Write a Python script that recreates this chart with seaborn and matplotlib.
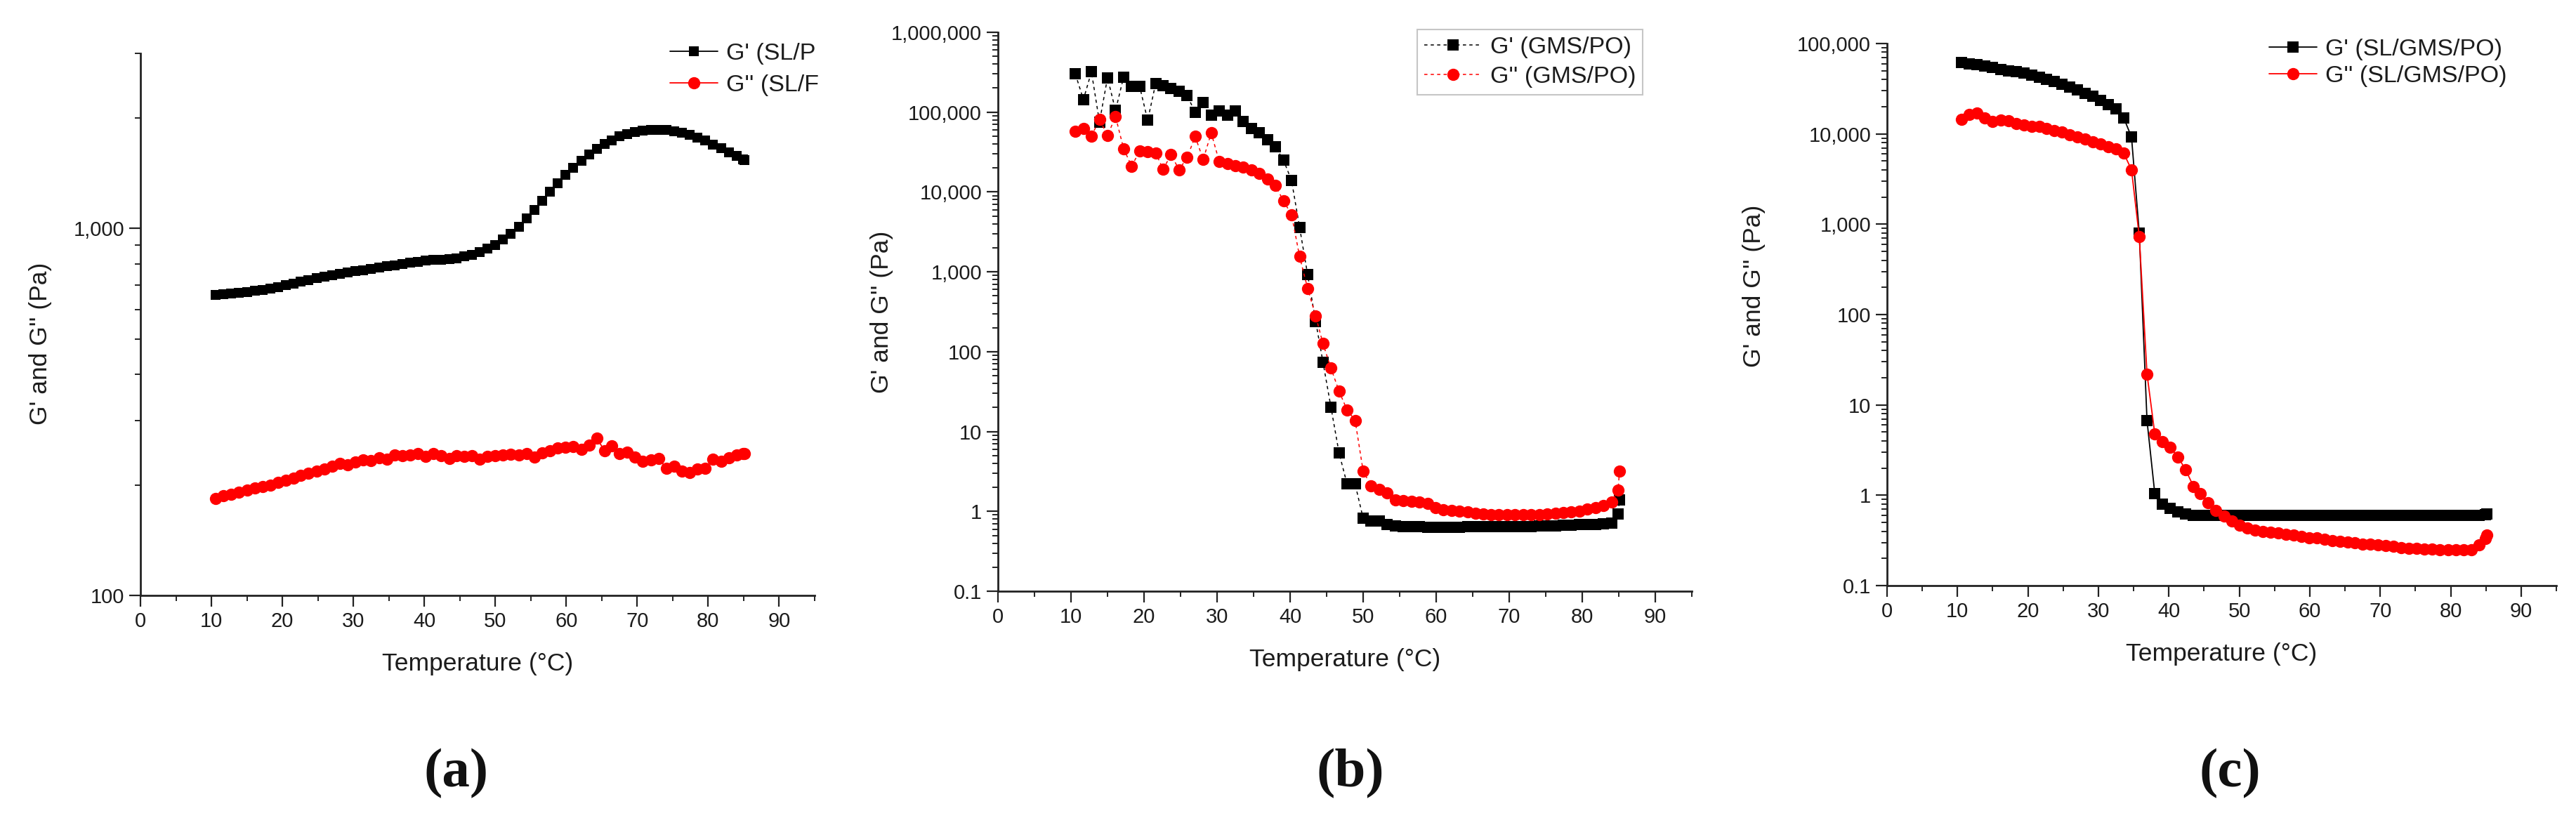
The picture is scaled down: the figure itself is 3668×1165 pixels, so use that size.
import matplotlib
matplotlib.use("Agg")
import matplotlib.pyplot as plt
import matplotlib.ticker as mticker
import seaborn as sns

# temperature grid shared by all three panels (degC)
temp = [10.6, 11.7, 12.8, 13.9, 15.0, 16.1, 17.2, 18.3, 19.4, 20.5,
        21.6, 22.6, 23.7, 24.8, 25.9, 27.0, 28.1, 29.2, 30.3, 31.4,
        32.5, 33.6, 34.7, 35.8, 36.9, 38.0, 39.1, 40.2, 41.3, 42.4,
        43.5, 44.5, 45.6, 46.7, 47.8, 48.9, 50.0, 51.1, 52.2, 53.3,
        54.4, 55.5, 56.6, 57.7, 58.8, 59.9, 61.0, 62.1, 63.2, 64.3,
        65.4, 66.4, 67.5, 68.6, 69.7, 70.8, 71.9, 73.0, 74.1, 75.2,
        76.3, 77.4, 78.5, 79.6, 80.7, 81.8, 82.9, 84.0, 84.9, 85.1]

# (a) SL/PO
a_gp = [660, 662, 665, 668, 672, 676, 681, 687, 693, 700,
        708, 716, 724, 731, 738, 745, 752, 758, 764, 770,
        776, 782, 788, 794, 800, 806, 812, 818, 821, 823,
        826, 830, 838, 848, 862, 880, 903, 932, 967, 1010,
        1065, 1125, 1190, 1260, 1330, 1400, 1465, 1530, 1590, 1645,
        1700, 1740, 1780, 1810, 1832, 1848, 1857, 1860, 1855, 1843,
        1825, 1800, 1770, 1735, 1695, 1655, 1615, 1575, 1545, 1535]
a_gpp = [184, 187, 189, 191, 194, 196, 198, 200, 203, 206,
         209, 212, 215, 218, 221, 225, 229, 227, 231, 234,
         233, 237, 235, 241, 240, 241, 243, 239, 244, 240,
         236, 240, 239, 240, 235, 239, 240, 241, 242, 241,
         243, 238, 245, 248, 252, 253, 255, 250, 257, 268,
         248, 256, 244, 246, 238, 232, 234, 236, 222, 225,
         218, 216, 221, 222, 235, 232, 237, 241, 243, 243]

# (b) GMS/PO
b_gp = [3.0e5, 1.44e5, 3.2e5, 7.5e4, 2.7e5, 1.05e5, 2.75e5, 2.1e5, 2.1e5, 7.9e4,
        2.3e5, 2.15e5, 1.98e5, 1.81e5, 1.61e5, 1.0e5, 1.32e5, 9.1e4, 1.04e5, 9.1e4,
        1.04e5, 7.7e4, 6.3e4, 5.5e4, 4.5e4, 3.66e4, 2.5e4, 1.39e4, 3.6e3, 920,
        240, 74, 20, 5.4, 2.2, 2.2, 0.82, 0.76, 0.75, 0.68,
        0.66, 0.65, 0.64, 0.64, 0.63, 0.63, 0.63, 0.63, 0.63, 0.64,
        0.64, 0.64, 0.64, 0.64, 0.64, 0.65, 0.65, 0.65, 0.66, 0.66,
        0.66, 0.67, 0.67, 0.68, 0.68, 0.69, 0.70, 0.72, 0.92, 1.4]
b_gpp = [5.7e4, 6.2e4, 5.0e4, 8.1e4, 5.1e4, 8.8e4, 3.5e4, 2.1e4, 3.26e4, 3.2e4,
         3.1e4, 1.92e4, 2.93e4, 1.9e4, 2.7e4, 4.96e4, 2.55e4, 5.5e4, 2.4e4, 2.25e4,
         2.15e4, 2.05e4, 1.9e4, 1.7e4, 1.45e4, 1.2e4, 7.7e3, 5.2e3, 1.55e3, 620,
         280, 126, 62, 32, 18.6, 13.8, 3.2, 2.08, 1.88, 1.7,
         1.39, 1.35, 1.33, 1.3, 1.25, 1.12, 1.05, 1.02, 1.0, 0.98,
         0.95, 0.93, 0.91, 0.90, 0.90, 0.90, 0.90, 0.91, 0.91, 0.92,
         0.94, 0.96, 0.99, 1.01, 1.06, 1.12, 1.18, 1.3, 1.85, 3.2]

# (c) SL/GMS/PO
c_gp = [6.2e4, 6.0e4, 5.8e4, 5.6e4, 5.4e4, 5.2e4, 5.0e4, 4.85e4, 4.7e4, 4.5e4,
        4.25e4, 4.0e4, 3.8e4, 3.55e4, 3.3e4, 3.05e4, 2.8e4, 2.6e4, 2.35e4, 2.1e4,
        1.9e4, 1.5e4, 9.2e3, 800, 6.7, 1.05, 0.8, 0.71, 0.66, 0.62,
        0.60, 0.60, 0.60, 0.60, 0.60, 0.60, 0.60, 0.60, 0.60, 0.60,
        0.60, 0.60, 0.60, 0.60, 0.60, 0.60, 0.60, 0.60, 0.60, 0.60,
        0.60, 0.60, 0.60, 0.60, 0.60, 0.60, 0.60, 0.60, 0.60, 0.60,
        0.60, 0.60, 0.60, 0.60, 0.60, 0.60, 0.60, 0.60, 0.61, 0.62]
c_gpp = [1.44e4, 1.64e4, 1.7e4, 1.5e4, 1.38e4, 1.43e4, 1.4e4, 1.3e4, 1.25e4, 1.22e4,
         1.2e4, 1.15e4, 1.09e4, 1.04e4, 9.7e3, 9.2e3, 8.8e3, 8.2e3, 7.7e3, 7.2e3,
         6.8e3, 6.1e3, 4.0e3, 730, 22, 4.8, 3.95, 3.4, 2.65, 1.9,
         1.25, 1.05, 0.82, 0.68, 0.59, 0.52, 0.47, 0.43, 0.41, 0.40,
         0.39, 0.38, 0.37, 0.36, 0.35, 0.34, 0.335, 0.325, 0.315, 0.31,
         0.305, 0.30, 0.29, 0.285, 0.28, 0.275, 0.27, 0.265, 0.26, 0.26,
         0.255, 0.255, 0.25, 0.25, 0.25, 0.25, 0.25, 0.28, 0.33, 0.36]

legend_a = ["G' (SL/P", "G'' (SL/F"]
legend_b = ["G' (GMS/PO)", "G'' (GMS/PO)"]
legend_c = ["G' (SL/GMS/PO)", "G'' (SL/GMS/PO)"]
panel_tags = ["(a)", "(b)", "(c)"]

sns.set_style("ticks")
plt.rcParams["font.family"] = ["Liberation Sans", "DejaVu Sans"]
TXT = "#1c1c1c"

W, H = 3668, 1165
fig = plt.figure(figsize=(W / 100, H / 100), dpi=100, facecolor="white")


def add_ax(left, right, top, bottom):
    return fig.add_axes([left / W, 1 - bottom / H, (right - left) / W, (bottom - top) / H])


def yfmt(v, pos):
    if v >= 1:
        return f"{v:,.0f}"
    return f"{v:g}"


def style_axis(ax, ylim, ylab_x, ylab_y):
    ax.set_yscale("log")
    ax.set_xlim(0, 95)
    ax.set_ylim(*ylim)
    ax.xaxis.set_major_locator(mticker.MultipleLocator(10))
    ax.xaxis.set_minor_locator(mticker.MultipleLocator(5))
    ax.yaxis.set_major_locator(mticker.LogLocator(base=10))
    ax.yaxis.set_minor_locator(mticker.LogLocator(base=10, subs=range(2, 10)))
    ax.yaxis.set_major_formatter(mticker.FuncFormatter(yfmt))
    ax.yaxis.set_minor_formatter(mticker.NullFormatter())
    ax.xaxis.set_major_formatter(mticker.FormatStrFormatter("%d"))
    for s in ["top", "right"]:
        ax.spines[s].set_visible(False)
    for s in ["left", "bottom"]:
        ax.spines[s].set_linewidth(2.0)
        ax.spines[s].set_color("#222222")
    ax.tick_params(which="major", direction="out", length=11.5, width=1.6,
                   labelsize=21, colors="#222222", labelcolor=TXT, pad=5)
    ax.tick_params(which="minor", direction="out", length=6, width=1.4, colors="#222222")
    ax.set_xlabel("Temperature (°C)", fontsize=25.5, color=TXT)
    ax.set_ylabel("G' and G'' (Pa)", fontsize=25.5, color=TXT)
    ax.xaxis.set_label_coords(0.5, -97 / (ax.bbox.height))
    ax.xaxis.label.set_va("center")
    ax.yaxis.set_label_coords(ylab_x / ax.bbox.width, ylab_y)
    ax.yaxis.label.set_va("center")
    ax.set_facecolor("white")


def draw(ax, gp, gpp, labels, ls, ms_sq, ms_ci, lw):
    sns.lineplot(x=temp, y=gp, ax=ax, color="black", marker="s", markersize=ms_sq,
                 markeredgecolor="black", markeredgewidth=0, linewidth=lw,
                 estimator=None, sort=False, label=labels[0])
    ax.lines[-1].set_linestyle(ls)
    sns.lineplot(x=temp, y=gpp, ax=ax, color="#ff0000", marker="o", markersize=ms_ci,
                 markeredgecolor="#ff0000", markeredgewidth=0, linewidth=lw,
                 estimator=None, sort=False, label=labels[1])
    ax.lines[-1].set_linestyle(ls)


leg_kw = dict(bbox_transform=fig.transFigure, fontsize=24.5, handletextpad=0.35,
              borderaxespad=0, labelcolor=TXT, loc="upper left")

# panel (a)
ax_a = add_ax(200, 1160, 76, 848)
draw(ax_a, a_gp, a_gpp, legend_a, "-", 10, 12.5, 1.3)
style_axis(ax_a, (100, 3000), -143, 0.464)
ax_a.legend(bbox_to_anchor=(954 / W, 1 - 61 / H), frameon=False, handlelength=2.0,
            borderpad=0, labelspacing=0.4, **leg_kw)

# panel (b)
ax_b = add_ax(1421, 2409, 46, 842)
draw(ax_b, b_gp, b_gpp, legend_b, (0, (3, 3)), 11, 12.5, 1.1)
style_axis(ax_b, (0.1, 1e6), -165, 0.5)
leg_b = ax_b.legend(bbox_to_anchor=(2018 / W, 1 - 42 / H), frameon=True, fancybox=False,
                    handlelength=2.4, borderpad=0.3, labelspacing=0.32, **leg_kw)
leg_b.get_frame().set_edgecolor("#b8b8b8")
leg_b.get_frame().set_linewidth(1.5)

# panel (c)
ax_c = add_ax(2687, 3640, 62, 834)
draw(ax_c, c_gp, c_gpp, legend_c, "-", 11, 12.5, 1.3)
style_axis(ax_c, (0.1, 1e5), -189, 0.553)
ax_c.legend(bbox_to_anchor=(3231 / W, 1 - 55 / H), frameon=False, handlelength=2.0,
            borderpad=0, labelspacing=0.2, **leg_kw)

# panel tags under each plot
for tag, xc in zip(panel_tags, [650, 1923, 3175]):
    fig.text(xc / W, 1 - 1102 / H, tag, ha="center", va="center", fontsize=57,
             fontweight="bold", family=["Liberation Serif", "DejaVu Serif"], color="#111111")

fig.savefig("out.png", dpi=100, facecolor="white")
